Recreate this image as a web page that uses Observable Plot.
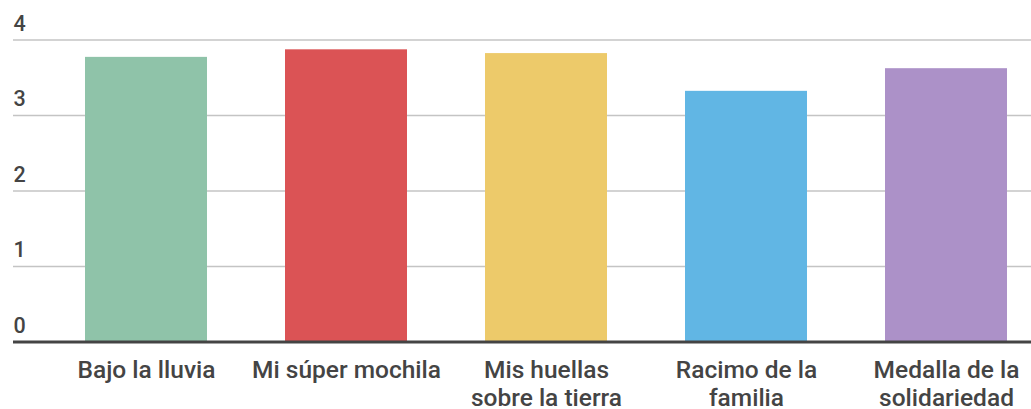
<!DOCTYPE html>
<html>
<head>
<meta charset="utf-8">
<script src="https://cdn.jsdelivr.net/npm/d3@7"></script>
<script src="https://cdn.jsdelivr.net/npm/@observablehq/plot@0.6"></script>
<style>
  html, body { margin: 0; padding: 0; background: #fff; }
  #chart svg { display: block; }
</style>
</head>
<body>
<div id="chart"></div>
<script>
const categories = ["Bajo la lluvia", "Mi súper mochila", "Mis huellas sobre la tierra", "Racimo de la familia", "Medalla de la solidariedad"];
const labels = ["Bajo la lluvia", "Mi súper mochila", "Mis huellas\nsobre la tierra", "Racimo de la\nfamilia", "Medalla de la\nsolidariedad"];
const values = [3.77, 3.87, 3.82, 3.32, 3.62];
const colors = ["#8FC3A9", "#DB5355", "#EDCA6A", "#61B6E4", "#AC91C8"];
const yTicks = [0, 1, 2, 3, 4];

const data = categories.map((c, i) => ({category: c, label: labels[i], value: values[i], color: colors[i]}));

const chart = Plot.plot({
  width: 1031,
  height: 409,
  marginLeft: 13,
  marginRight: 0,
  marginTop: 0,
  marginBottom: 0,
  style: {fontFamily: "Roboto, sans-serif", background: "#fff"},
  x: {domain: categories, range: [46, 1046], paddingInner: 0.39, paddingOuter: 0.195, axis: null},
  y: {domain: [0, 4], range: [341.5, 39.5], axis: null},
  marks: [
    Plot.ruleY(yTicks.filter(d => d > 0), {stroke: "#c4c4c4", strokeWidth: 1.5}),
    Plot.text(yTicks, {y: d => d, frameAnchor: "left", textAnchor: "start", dy: -16, text: d => String(d), fontSize: 21.5, fontWeight: 500, fill: "#444"}),
    Plot.barY(data, {x: "category", y: "value", fill: "color"}),
    Plot.ruleY([0], {stroke: "#444", strokeWidth: 3}),
    Plot.text(data, {x: "category", y: 0, text: "label", lineAnchor: "top", dy: 16.5, lineHeight: 1.14, fontSize: 24.5, fontWeight: 500, fill: "#444"})
  ]
});
document.getElementById("chart").appendChild(chart);
</script>
</body>
</html>
